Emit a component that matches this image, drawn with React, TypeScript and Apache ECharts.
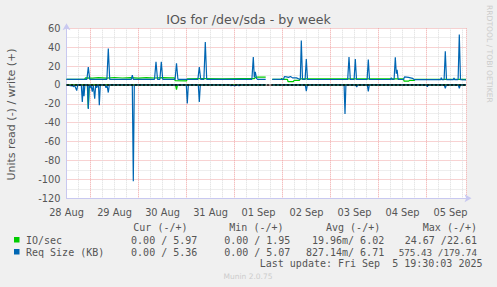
import React, { useEffect, useRef } from "react";
import * as echarts from "echarts";

// x values are hours since 28 Aug 00:00; y values in units
const dayLabels = ["28 Aug", "29 Aug", "30 Aug", "31 Aug", "01 Sep", "02 Sep", "03 Sep", "04 Sep", "05 Sep"];

type Pt = [number, number | null];

// IO/sec write (+)
const ioWrite: Pt[] = [
  [12, 6.0], [21.0, 6.0], [21.5, 7.6], [25, 7.2], [28, 7.8], [32, 7.3], [36, 7.9], [40, 7.4],
  [44, 7.8], [48, 7.3], [52, 7.7], [56, 7.4], [60, 7.8], [64, 7.5], [66, 7.6], [66.3, 4.5],
  [72, 4.4], [72.5, 6.6], [80, 6.8], [90, 6.6], [100, 6.8], [106, 6.8], [106.5, 8.3], [111.6, 8.3],
  [113, null],
  [114.9, 6.0], [119.3, 6.0], [119.6, 7.0], [120, 6.0], [122.5, 6.0], [122.75, 3.6], [125.5, 3.6],
  [125.75, 4.8], [128.5, 4.8], [128.75, 6.4], [150, 6.4], [170, 6.6], [180.5, 6.4], [180.75, 4.0],
  [183, 4.0], [183.5, 4.9], [186, 4.9], [186.25, 6.0], [211.75, 6.0],
];

// IO/sec read (-), stored as positive values
const ioRead: Pt[] = [
  [12, 0], [22.4, 0], [22.9, 24.7], [23.4, 0], [66.5, 0], [67, 5], [67.5, 0], [111.6, 0],
  [113, null],
  [114.9, 0], [211.75, 0],
];

// Req Size (KB) write (+)
const reqWrite: Pt[] = [
  [12, 6.0], [22.2, 6.0], [22.9, 19], [23.6, 6.0], [32.2, 6.0], [32.9, 38.5], [33.6, 6.0],
  [44.4, 6.0], [44.9, 10.5], [45.4, 6.0], [56, 6.0], [56.75, 24.5], [57.5, 6.0],
  [58.7, 6.0], [59.4, 24.5], [60.1, 6.0], [66.3, 6.0], [67, 23], [67.7, 6.0],
  [77.7, 6.0], [78.4, 19], [79.1, 6.0], [80.7, 6.0], [81.4, 45.5], [82.1, 6.0],
  [104.7, 6.0], [105.4, 29.5], [105.9, 8], [106.4, 14], [107, 7], [107.5, 6.0], [111.6, 6.0],
  [113, null],
  [114.9, 6.0], [120.5, 6.0], [121, 9], [122, 8.5], [123, 8], [124, 9], [125, 7.5], [127, 7.5],
  [128.5, 6.0], [128.9, 5.8], [129.4, 47], [130, 5.8], [131.3, 5.8], [131.9, 27.5], [132.5, 5.8],
  [152.6, 5.8], [153.25, 29.5], [153.9, 5.8], [155.8, 5.8], [156.4, 27.5], [157, 5.8],
  [162.3, 5.8], [162.9, 26.8], [163.5, 5.8], [174, 5.8], [174.4, 7.7], [174.8, 5.8],
  [175.8, 5.8], [176.4, 29.3], [176.9, 12], [177.3, 16], [177.8, 6.0],
  [180.5, 5.8], [181, 8.5], [183, 8], [185, 7], [186, 5.6], [199.1, 5.6], [199.4, 7.8], [199.7, 5.6],
  [200.8, 5.6], [201.4, 35.6], [202, 5.6], [205.4, 5.6], [205.75, 7.5], [206.1, 5.6],
  [207.8, 5.6], [208.4, 53.3], [209, 5.6], [211.75, 5.4],
];

// Req Size (KB) read (-), stored as positive values
const reqRead: Pt[] = [
  [12, 0], [14.6, 1], [15, 0.3], [15.4, 2], [16, 0.5], [16.25, 1.5], [17.1, 6], [17.6, 0],
  [19.4, 0], [19.9, 18], [20.4, 0], [20.75, 12], [21.2, 0],
  [22.5, 0], [22.9, 25.5], [23.3, 0], [23.75, 3], [24.2, 0], [24.9, 7], [25.4, 0],
  [25.7, 0], [26.1, 14.5], [26.6, 0], [27.1, 3], [27.6, 0], [28, 0], [28.4, 21.5], [28.9, 0],
  [31.3, 0], [31.75, 3], [32.3, 1], [32.9, 8], [33.4, 0],
  [44.9, 0], [45.4, 102], [45.9, 0],
  [71.9, 0], [72.4, 19.5], [72.9, 0], [77.9, 0], [78.4, 18], [78.9, 0],
  [93.8, 0], [94.25, 1], [94.7, 0], [96.25, 1], [96.7, 0], [97.8, 0], [98.25, 1], [98.7, 0],
  [111.6, 0],
  [113, null],
  [114.9, 0], [131.4, 0], [131.9, 6.5], [132.4, 0], [150.8, 0], [151.25, 30.7], [151.7, 0],
  [156.6, 0], [157.1, 2], [157.6, 0], [162.4, 0], [162.9, 6.7], [163.4, 0],
  [192, 0], [192.4, 2], [192.8, 0], [200.9, 0], [201.4, 3.5], [201.9, 0],
  [207.9, 0], [208.4, 3.5], [208.9, 0], [211.75, 0],
];

const legendHeader = ["Cur (-/+)", "Min (-/+)", "Avg (-/+)", "Max (-/+)"];
const legendNames = ["IO/sec", "Req Size (KB)"];
const legendValues = [
  ["0.00 / 5.97", "0.00 / 1.95", "19.96m/ 6.02", "24.67 /22.61"],
  ["0.00 / 5.36", "0.00 / 5.07", "827.14m/ 6.71", "575.43 /179.74"],
];
const lastUpdate = "Last update: Fri Sep  5 19:30:03 2025";

const GREEN = "#00cc00";
const BLUE = "#0066b3";
const seriesColors = [GREEN, BLUE];
const MINOR = "#dcdcdc";
const MAJOR = "#f0a4a4";
const AXIS = "#c8c8f0";
const TXT = "#555";
const MONO = "'DejaVu Sans Mono', monospace";
const SANS = "'DejaVu Sans', sans-serif";

const neg = (d: Pt[]): Pt[] => d.map(([h, v]) => [h, v == null ? null : -v]);

function txt(text: string, x: number, y: number, opts: any = {}) {
  const align = opts.align || "left";
  return {
    type: "text",
    x,
    y,
    rotation: opts.rotation || 0,
    silent: true,
    style: {
      text,
      fill: opts.color || TXT,
      fontSize: opts.size || 10,
      fontFamily: opts.family || MONO,
      align,
      textAlign: align,
      verticalAlign: "middle",
      textVerticalAlign: "middle",
    },
  };
}

export default function App() {
  const ref = useRef<HTMLDivElement>(null);
  useEffect(() => {
    document.body.style.margin = "0";
    const chart = echarts.init(ref.current!, null, { renderer: "svg" });

    const lineSeries = (name: string, data: Pt[], color: string, z: number) => ({
      type: "line",
      name,
      data,
      z,
      silent: true,
      symbol: "none",
      showSymbol: false,
      connectNulls: false,
      lineStyle: { color, width: 1.2 },
      itemStyle: { color },
    });

    const colEnd = [197.3, 290.4, 384.2, 477];
    const colWidth = [67, 67, 79, 78.5];
    const headerEnd = [187.5, 283.5, 380.2, 477];
    const rowY = [240, 252];

    const graphics: any[] = [
      txt("IOs for /dev/sda - by week", 248.5, 19, { align: "center", size: 12.6, family: SANS }),
      txt("Units read (-) / write (+)", 11, 114.5, { align: "center", size: 11, family: SANS, rotation: Math.PI / 2 }),
      txt("RRDTOOL / TOBI OETIKER", 489, 5, { size: 7.6, family: SANS, color: "#cccccc", rotation: -Math.PI / 2 }),
      txt(lastUpdate, 482.5, 263.5, { align: "right" }),
      txt("Munin 2.0.75", 248, 276, { align: "center", size: 7.5, family: SANS, color: "#cccccc" }),
    ];
    legendHeader.forEach((h, i) => graphics.push(txt(h, headerEnd[i], 227, { align: "right" })));
    legendNames.forEach((n, r) => {
      graphics.push({
        type: "rect",
        silent: true,
        shape: { x: 14, y: rowY[r] - 3, width: 5.5, height: 5.5 },
        style: { fill: seriesColors[r] },
      });
      graphics.push(txt(n, 26, rowY[r]));
      legendValues[r].forEach((v, i) => {
        const size = Math.min(10, colWidth[i] / (v.length * 0.602));
        graphics.push(txt(v, colEnd[i], rowY[r], { align: "right", size }));
      });
    });

    chart.setOption({
      animation: false,
      backgroundColor: "#f0f0f0",
      grid: {
        left: 66.5,
        top: 28.3,
        width: 400,
        height: 170,
        show: true,
        backgroundColor: "#ffffff",
        borderWidth: 0,
      },
      xAxis: [
        {
          type: "value",
          min: 12,
          max: 212,
          interval: 6,
          axisLine: {
            show: true,
            onZero: false,
            lineStyle: { color: AXIS, width: 1 },
            symbol: ["none", "arrow"],
            symbolSize: [6, 7],
            symbolOffset: [0, 5],
          },
          axisTick: { show: false },
          axisLabel: {
            margin: 9,
            color: TXT,
            fontFamily: SANS,
            fontSize: 9.8,
            formatter: (v: number) => {
              const k = (v - 12) / 24;
              return Number.isInteger(k) && dayLabels[k] ? dayLabels[k] : "";
            },
          },
          // ticks every 6 h from noon: every 4th line (midnight) is a major line
          splitLine: { show: true, lineStyle: { color: [MINOR, MINOR, MAJOR, MINOR], type: [1, 1], width: 1 } },
        },
      ],
      yAxis: [
        {
          type: "value",
          min: -120,
          max: 60,
          interval: 10,
          axisLine: {
            show: true,
            onZero: false,
            lineStyle: { color: AXIS, width: 1 },
            symbol: ["none", "arrow"],
            symbolSize: [6, 7],
            symbolOffset: [0, 5],
          },
          axisTick: { show: false },
          axisLabel: {
            margin: 6,
            color: TXT,
            fontFamily: SANS,
            fontSize: 9.8,
            formatter: (v: number) => (v % 20 === 0 ? String(v) : ""),
          },
          splitLine: { show: true, lineStyle: { color: [MAJOR, MINOR], type: [1, 1], width: 1 } },
        },
      ],
      series: [
        {
          type: "line",
          data: [[12, 0]],
          z: 1,
          silent: true,
          symbol: "none",
          lineStyle: { opacity: 0 },
          markLine: {
            silent: true,
            symbol: ["none", "none"],
            label: { show: false },
            emphasis: { disabled: true },
            data: [{ yAxis: 0, lineStyle: { color: "#000000", type: [3, 1], width: 1.5 } }],
          },
        },
        lineSeries("IO/sec write", ioWrite, GREEN, 2),
        lineSeries("IO/sec read", neg(ioRead), GREEN, 2),
        lineSeries("Req Size write", reqWrite, BLUE, 3),
        lineSeries("Req Size read", neg(reqRead), BLUE, 3),
      ],
      graphic: graphics,
    });
    return () => chart.dispose();
  }, []);
  return <div ref={ref} style={{ width: 497, height: 287, position: "absolute", left: 0, top: 0 }} />;
}
